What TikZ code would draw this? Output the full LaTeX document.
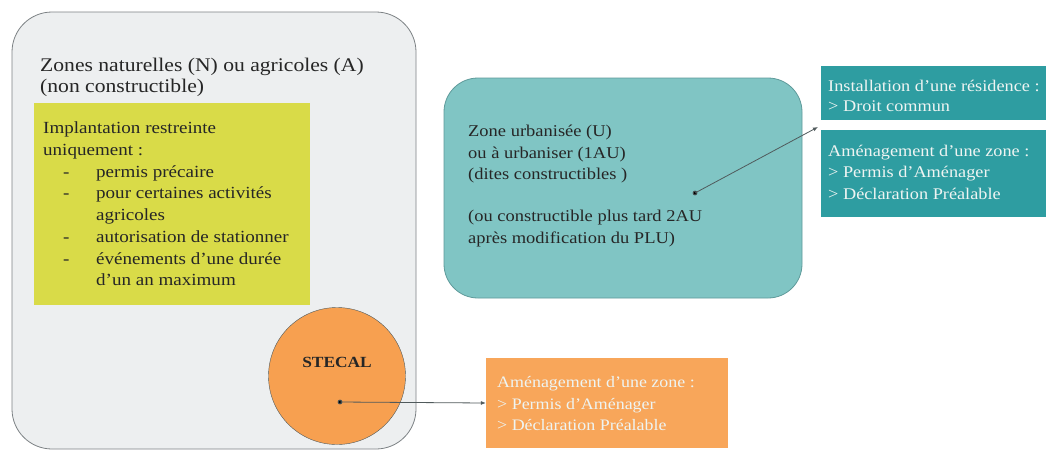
\documentclass[tikz,border=0pt]{standalone}
\usepackage{fontspec}
\setmainfont{Liberation Serif}[FakeStretch=1.12]
\usetikzlibrary{arrows.meta,positioning}

\definecolor{grisfond}{HTML}{EDEFF0}
\definecolor{grisbord}{HTML}{7D8285}
\definecolor{jaune}{HTML}{D9DB48}
\definecolor{orangec}{HTML}{F7A050}
\definecolor{orangeb}{HTML}{F8A65A}
\definecolor{turqclair}{HTML}{80C5C4}
\definecolor{turqbord}{HTML}{5E9A9A}
\definecolor{turqfonce}{HTML}{2E9DA1}
\definecolor{textefonce}{HTML}{262626}
\definecolor{texteclair}{HTML}{EEF4F2}
\definecolor{fleche}{HTML}{505A5C}

\newcommand{\tiret}[1]{\makebox[53pt][l]{\hspace*{20pt}-}#1}
\newcommand{\suite}[1]{\hspace*{53pt}#1}

\tikzset{
	zone/.style={draw=grisbord, fill=grisfond, line width=0.8pt, rounded corners=40pt},
	texte/.style={anchor=west, align=left, inner sep=0pt, text=textefonce},
	cadre/.style={inner sep=0pt, draw=none},
	fleche/.style={draw=fleche, line width=0.8pt, -{Latex[length=5pt,width=4pt]}},
}

\begin{document}
\begin{tikzpicture}[x=1pt, y=-1pt]
	\useasboundingbox (0,0) rectangle (1051,453);
	\fill[white] (0,0) rectangle (1051,453);

	% zones N / A
	\node[zone, minimum width=404pt, minimum height=437pt] (zoneNA) at (214,230.5) {};
	\node[texte, font=\fontsize{19.3}{21}\selectfont] (titreNA) at (40,77.5)
		{Zones naturelles (N) ou agricoles (A)\\(non constructible)};
	\node[cadre, fill=jaune, minimum width=276pt, minimum height=202pt] (restreint) at (172,204) {};
	\node[texte, font=\fontsize{17}{21.7}\selectfont] (listeNA) at (43,204)
		{Implantation restreinte\\uniquement :\\
		\tiret{permis précaire}\\
		\tiret{pour certaines activités}\\
		\suite{agricoles}\\
		\tiret{autorisation de stationner}\\
		\tiret{événements d'une durée}\\
		\suite{d'un an maximum}};

	% STECAL
	\node[circle, draw=fleche, fill=orangec, minimum size=137pt, inner sep=0pt] (stecal) at (337,376) {};
	\node[font=\fontsize{15.5}{16}\bfseries\selectfont, text=textefonce] (stecaltxt) at (337,362) {STECAL};
	\coordinate (ptS) at (340,402);
	\node[cadre, fill=orangeb, minimum width=242pt, minimum height=90pt] (amenageS) at (607,403) {};
	\node[texte, text=texteclair, font=\fontsize{16}{21.5}\selectfont] (amenageStxt) at (497,404)
		{Aménagement d'une zone :\\> Permis d'Aménager\\> Déclaration Préalable};
	\fill[fleche] (ptS) circle (2pt);
	\draw[fleche] (ptS) -- (amenageS.west);

	% zone U / AU
	\node[zone, draw=turqbord, fill=turqclair, rounded corners=34pt, minimum width=358pt, minimum height=220pt] (zoneU) at (623,188) {};
	\node[texte, font=\fontsize{16.5}{21.3}\selectfont] (zoneUtxt) at (468,186)
		{Zone urbanisée (U)\\ou à urbaniser (1AU)\\(dites constructibles )\\[21.3pt]
		(ou constructible plus tard 2AU\\après modification du PLU)};
	\coordinate (ptU) at (695,193);

	% cas en zone U
	\node[cadre, fill=turqfonce, minimum width=225pt, minimum height=54pt] (residence) at (933.5,93) {};
	\node[texte, text=texteclair, font=\fontsize{16.3}{20.5}\selectfont] (residencetxt) at (828,96)
		{Installation d'une résidence :\\> Droit commun};
	\node[cadre, fill=turqfonce, minimum width=225pt, minimum height=87pt] (amenageU) at (933.5,173.5) {};
	\node[texte, text=texteclair, font=\fontsize{16.3}{21.5}\selectfont] (amenageUtxt) at (828,172)
		{Aménagement d'une zone :\\> Permis d'Aménager\\> Déclaration Préalable};
	\coordinate (finU) at (818,127);
	\fill[fleche] (ptU) circle (2pt);
	\draw[fleche] (ptU) -- (finU);
\end{tikzpicture}
\end{document}
